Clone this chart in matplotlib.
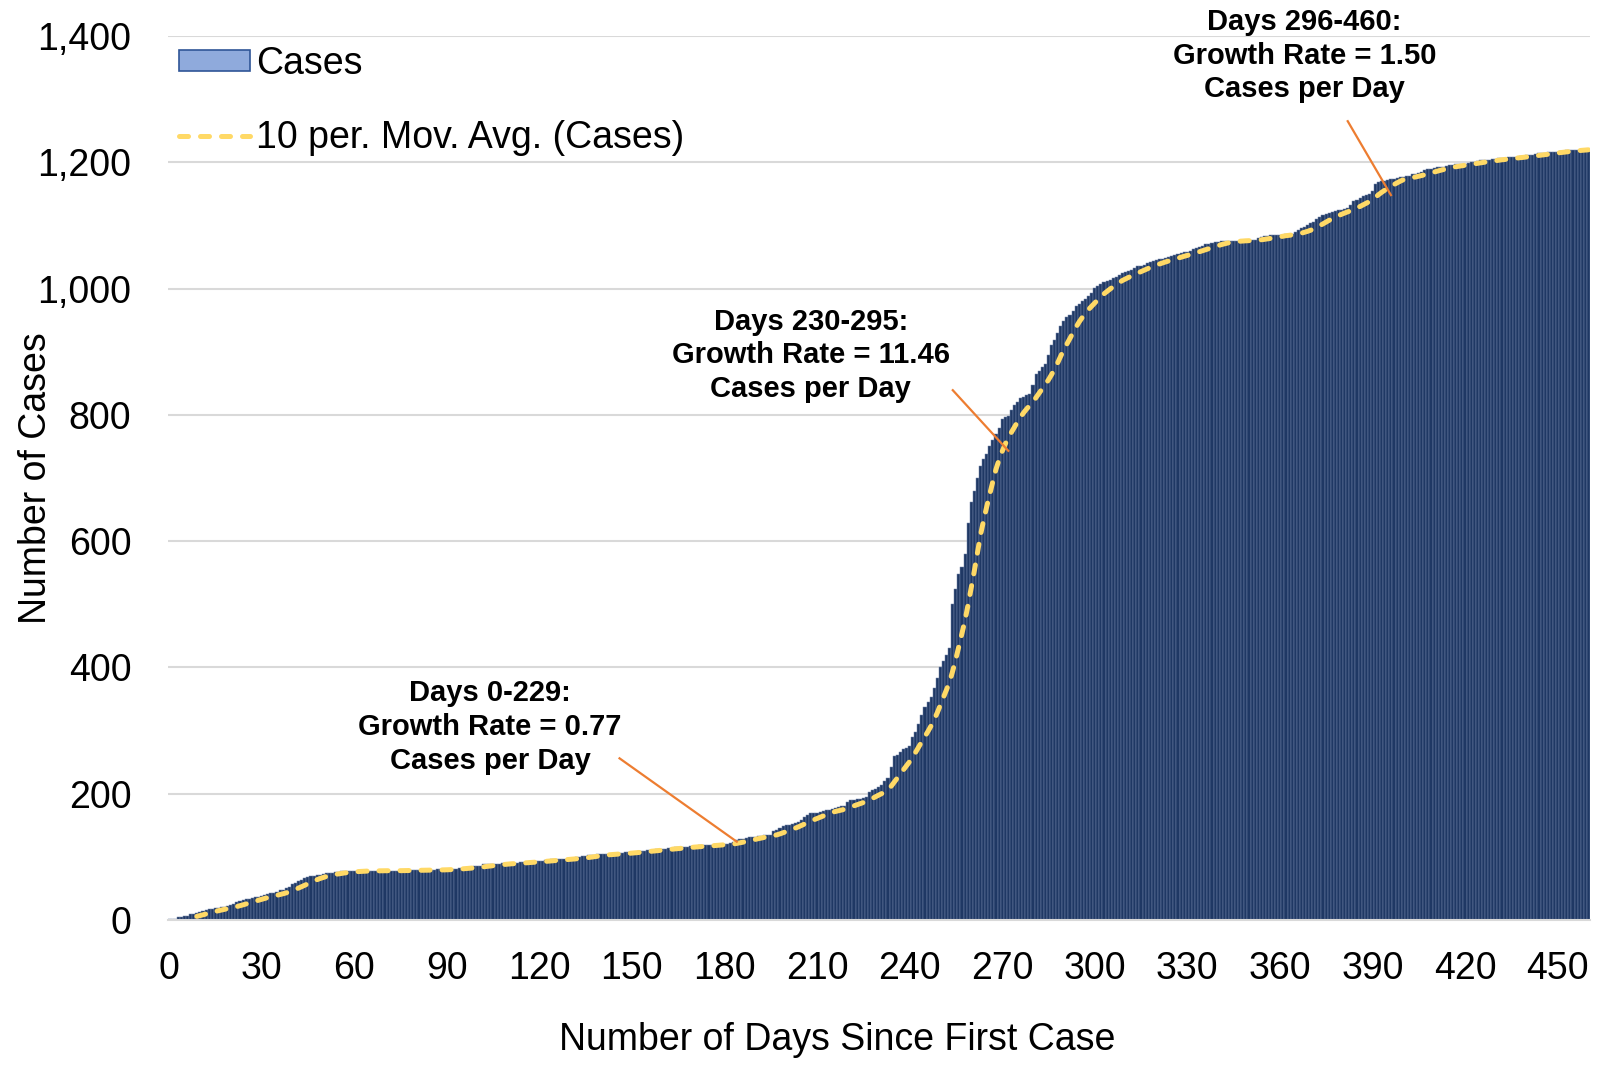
import matplotlib.pyplot as plt
import numpy as np
from matplotlib.patches import Patch
from matplotlib.ticker import FuncFormatter

# cumulative cases per day since the first case (days 0-460)
cases = [
    1, 2, 2, 4, 5, 6, 7, 9, 10, 11,
    13, 15, 16, 17, 18, 19, 19, 20, 21, 22,
    24, 25, 28, 30, 32, 33, 34, 35, 36, 36,
    38, 40, 41, 42, 43, 45, 47, 48, 50, 53,
    57, 59, 62, 64, 66, 68, 69, 70, 71, 72,
    73, 74, 75, 75, 76, 76, 77, 77, 77, 77,
    78, 78, 78, 78, 78, 78, 78, 78, 78, 78,
    78, 78, 78, 78, 78, 79, 79, 79, 79, 79,
    79, 79, 79, 79, 79, 79, 79, 80, 80, 80,
    81, 81, 81, 81, 83, 83, 83, 84, 84, 85,
    85, 86, 88, 88, 88, 88, 89, 89, 90, 90,
    90, 90, 90, 91, 92, 92, 92, 93, 93, 93,
    94, 94, 95, 95, 96, 96, 96, 96, 97, 97,
    97, 98, 99, 100, 101, 102, 103, 103, 103, 104,
    104, 104, 105, 105, 105, 106, 106, 106, 107, 107,
    108, 108, 109, 110, 110, 111, 111, 111, 112, 112,
    113, 113, 114, 114, 115, 115, 116, 116, 116, 117,
    117, 117, 118, 118, 118, 119, 119, 120, 120, 120,
    121, 121, 122, 124, 127, 128, 129, 130, 131, 132,
    132, 133, 133, 134, 135, 135, 141, 143, 146, 149,
    150, 151, 152, 153, 155, 158, 163, 167, 169, 169,
    170, 171, 172, 174, 174, 176, 177, 179, 180, 181,
    187, 190, 190, 191, 192, 193, 194, 203, 206, 208,
    211, 214, 220, 225, 242, 259, 262, 266, 270, 273,
    276, 290, 297, 310, 325, 338, 345, 353, 368, 383,
    400, 410, 420, 431, 500, 524, 548, 559, 580, 629,
    662, 680, 700, 719, 730, 738, 750, 760, 770, 779,
    794, 796, 798, 808, 815, 820, 827, 829, 831, 833,
    848, 865, 870, 875, 880, 895, 910, 918, 930, 941,
    948, 955, 958, 965, 973, 976, 980, 984, 988, 993,
    1001, 1004, 1007, 1010, 1012, 1014, 1016, 1019, 1021, 1024,
    1026, 1028, 1030, 1033, 1035, 1036, 1038, 1040, 1042, 1044,
    1045, 1046, 1047, 1049, 1050, 1052, 1053, 1055, 1056, 1058,
    1058, 1060, 1062, 1064, 1066, 1068, 1070, 1071, 1072, 1073,
    1074, 1075, 1075, 1076, 1076, 1076, 1076, 1076, 1076, 1076,
    1076, 1077, 1077, 1080, 1082, 1083, 1083, 1084, 1084, 1085,
    1085, 1085, 1086, 1086, 1087, 1090, 1093, 1096, 1098, 1100,
    1103, 1106, 1110, 1114, 1116, 1118, 1120, 1121, 1122, 1124,
    1125, 1126, 1128, 1133, 1138, 1140, 1143, 1146, 1148, 1150,
    1155, 1166, 1168, 1170, 1171, 1172, 1173, 1174, 1175, 1176,
    1177, 1178, 1179, 1181, 1182, 1183, 1185, 1187, 1189, 1190,
    1191, 1192, 1192, 1193, 1194, 1195, 1196, 1197, 1197, 1198,
    1198, 1199, 1200, 1201, 1202, 1203, 1203, 1204, 1204, 1205,
    1205, 1206, 1206, 1207, 1208, 1208, 1209, 1209, 1210, 1210,
    1211, 1211, 1212, 1213, 1214, 1215, 1215, 1216, 1216, 1217,
    1217, 1218, 1218, 1219, 1219, 1220, 1220, 1220, 1221, 1221, 1221,
]
days = np.arange(len(cases))
ma_period = 10

x_ticks = list(range(0, 451, 30))
y_ticks = list(range(0, 1401, 200))

# annotation texts: (label, text center, arrow start, arrow end) in data units
notes = [
    ('Days 0-229:\nGrowth Rate = 0.77\nCases per Day', (104, 306), (146, 256), (184, 124)),
    ('Days 230-295:\nGrowth Rate = 11.46\nCases per Day', (208, 894), (254, 839), (272, 743)),
    ('Days 296-460:\nGrowth Rate = 1.50\nCases per Day', (368, 1369), (382, 1265), (396, 1148)),
]

plt.rcParams['font.family'] = ['Liberation Sans', 'DejaVu Sans']

fig = plt.figure(figsize=(16.06, 10.70), dpi=100)
ax = fig.add_axes([0.1043, 0.1402, 0.8857, 0.8262])

ax.bar(days, cases, width=1.0, color='#1F3864', edgecolor='#7083a8', linewidth=0.35, zorder=2)

# 10 period moving average, like the Excel trendline
ma = np.convolve(cases, np.ones(ma_period) / ma_period, mode='valid')
ax.plot(days[ma_period - 1:], ma, color='#FFD966', lw=3.6, dashes=(1.8, 2.4),
        dash_capstyle='round', zorder=3)

for text, pos, start, end in notes:
    ax.text(pos[0], pos[1], text, ha='center', va='center', fontsize=21,
            fontweight='bold', linespacing=1.27, zorder=4)
    ax.plot([start[0], end[0]], [start[1], end[1]], color='#ED7D31', lw=1.6, zorder=4)

ax.set_xlim(-0.5, len(cases) - 0.5)
ax.set_ylim(0, 1400)
ax.set_xticks(x_ticks)
ax.set_yticks(y_ticks)
ax.yaxis.set_major_formatter(FuncFormatter(lambda v, p: f'{int(v):,}'))
ax.tick_params(axis='both', length=0, labelsize=27)
ax.tick_params(axis='x', pad=22)
ax.tick_params(axis='y', pad=26)
ax.grid(axis='y', color='#d9d9d9', lw=1.5, zorder=0)
ax.set_axisbelow(True)
for s in ['top', 'right', 'left']:
    ax.spines[s].set_visible(False)
ax.spines['bottom'].set_color('#d9d9d9')
ax.spines['bottom'].set_linewidth(1.5)

ax.set_xlabel('Number of Days Since First Case', fontsize=27)
ax.set_ylabel('Number of Cases', fontsize=27)
ax.xaxis.set_label_coords(0.4707, -0.115)
ax.yaxis.set_label_coords(-0.080, 0.5)

handles = [Patch(facecolor='#8FAADC', edgecolor='#2F5597', lw=1.2),
           plt.Line2D([], [], color='#FFD966', lw=3.6, dashes=(1.8, 2.4), dash_capstyle='round')]
ax.legend(handles, ['Cases', '10 per. Mov. Avg. (Cases)'], loc='upper left',
          bbox_to_anchor=(0.1115, 0.957), bbox_transform=fig.transFigure,
          frameon=False, fontsize=27, borderpad=0, borderaxespad=0,
          handlelength=1.9, handleheight=0.5, handletextpad=0.15, labelspacing=1.0)

fig.savefig('out.png', dpi=100)
